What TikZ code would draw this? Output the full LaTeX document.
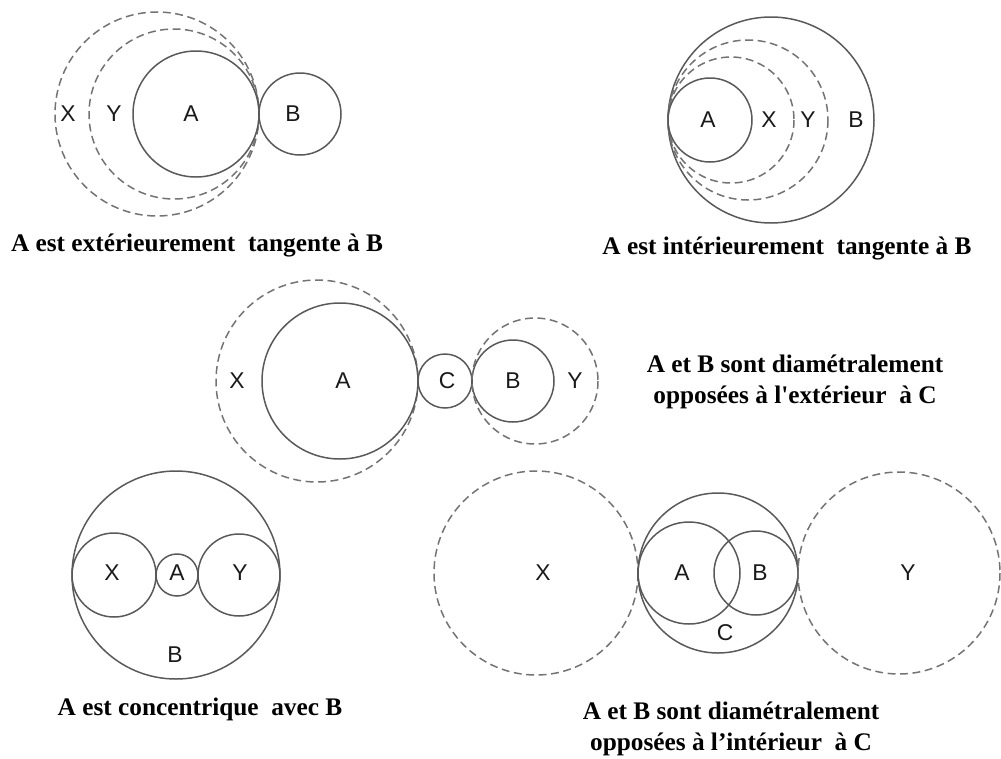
\documentclass[tikz,border=0pt]{standalone}
\usepackage{fontspec}
\setmainfont{Liberation Serif}[Ligatures=TeXOff]
\newfontfamily\lettres{Liberation Sans}

\begin{document}
\begin{tikzpicture}[x=0.02cm,y=-0.02cm,
    rond/.style={draw=black!65,line width=0.85pt},
    pointille/.style={draw=black!55,line width=0.85pt,dash pattern=on 4.5pt off 2.6pt},
    lettre/.style={inner sep=0pt,font=\lettres\fontsize{13}{15}\selectfont,text=black!90},
    legende/.style={inner sep=0pt,align=center,font=\bfseries\fontsize{14.4}{17.5}\selectfont}]
    \useasboundingbox (0,0) rectangle (1001,758);

    \coordinate (xa) at (157,114);
    \coordinate (ya) at (174,114);
    \coordinate (aa) at (196,114);
    \coordinate (ba) at (300,114);
    \draw[pointille] (xa) circle (102);
    \draw[pointille] (ya) circle (85);
    \draw[rond] (aa) circle (63);
    \draw[rond] (ba) circle (41);
    \node[lettre] (lxa) at (68,114) {X};
    \node[lettre] (lya) at (114,114) {Y};
    \node[lettre] (laa) at (191,114) {A};
    \node[lettre] (lba) at (293,114) {B};
    \node[legende] (leg1) at (197,245) {A est extérieurement~ tangente à B};

    \coordinate (bb) at (771,120);
    \coordinate (yb) at (748,120);
    \coordinate (xb) at (731,120);
    \coordinate (ab) at (710,120);
    \draw[rond] (bb) circle (103);
    \draw[pointille] (yb) circle (80);
    \draw[pointille] (xb) circle (63);
    \draw[rond] (ab) circle (42);
    \node[lettre] (lab) at (708,120) {A};
    \node[lettre] (lxb) at (769,120) {X};
    \node[lettre] (lyb) at (808,120) {Y};
    \node[lettre] (lbb) at (856,120) {B};
    \node[legende] (leg2) at (787,248) {A est intérieurement~ tangente à B};

    \coordinate (xc) at (317,381);
    \coordinate (ac) at (340,381);
    \coordinate (cc) at (445,381);
    \coordinate (bc) at (513,381);
    \coordinate (yc) at (535,381);
    \draw[pointille] (xc) circle (101);
    \draw[rond] (ac) circle (78);
    \draw[rond] (cc) circle (27);
    \draw[rond] (bc) circle (41);
    \draw[pointille] (yc) circle (63);
    \node[lettre] (lxc) at (237,381) {X};
    \node[lettre] (lac) at (343,381) {A};
    \node[lettre] (lcc) at (447,381) {C};
    \node[lettre] (lbc) at (513,381) {B};
    \node[lettre] (lyc) at (575,381) {Y};
    \node[legende] (leg3) at (795,382) {A et B sont diamétralement\\opposées à l'extérieur~ à C};

    \coordinate (bd) at (176,575);
    \coordinate (xd) at (114,575);
    \coordinate (ad) at (177,575);
    \coordinate (yd) at (239,575);
    \draw[rond] (bd) circle (104);
    \draw[rond] (xd) circle (42);
    \draw[rond] (ad) circle (21);
    \draw[rond] (yd) circle (41);
    \node[lettre] (lxd) at (112,573) {X};
    \node[lettre] (lad) at (177,573) {A};
    \node[lettre] (lyd) at (240,573) {Y};
    \node[lettre] (lbd) at (175,655) {B};
    \node[legende] (leg4) at (200,709) {A est concentrique~ avec B};

    \coordinate (xe) at (536,573);
    \coordinate (ce) at (718,573);
    \coordinate (ae) at (689,573);
    \coordinate (be) at (756,573);
    \coordinate (ye) at (899,573);
    \draw[pointille] (xe) circle (102);
    \draw[rond] (ce) circle (80);
    \draw[rond] (ae) circle (51);
    \draw[rond] (be) circle (42);
    \draw[pointille] (ye) circle (101);
    \node[lettre] (lxe) at (543,573) {X};
    \node[lettre] (lae) at (682,573) {A};
    \node[lettre] (lbe) at (760,573) {B};
    \node[lettre] (lce) at (725,633) {C};
    \node[lettre] (lye) at (908,573) {Y};
    \node[legende] (leg5) at (731,729) {A et B sont diamétralement\\opposées à l’intérieur~ à C};
\end{tikzpicture}
\end{document}
